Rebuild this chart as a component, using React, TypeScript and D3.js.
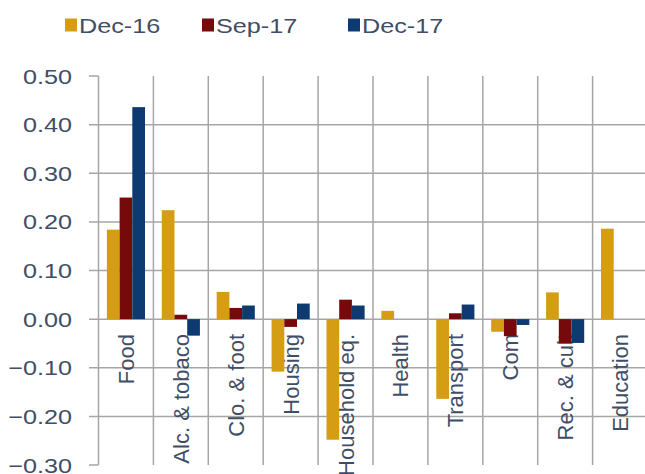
import React from "react";
import * as d3 from "d3";

const categories = ["Food", "Alc. & tobaco", "Clo. & foot", "Housing", "Household eq.", "Health", "Transport", "Com", "Rec. & cult", "Education"];
const seriesNames = ["Dec-16", "Sep-17", "Dec-17"];
const dec16 = [0.184, 0.224, 0.056, -0.108, -0.248, 0.017, -0.164, -0.026, 0.055, 0.186];
const sep17 = [0.25, 0.009, 0.023, -0.016, 0.04, 0, 0.012, -0.035, -0.05, 0];
const dec17 = [0.436, -0.034, 0.028, 0.032, 0.028, 0, 0.03, -0.012, -0.049, 0];
const yTicks = [0.5, 0.4, 0.3, 0.2, 0.1, 0, -0.1, -0.2, -0.3];
const colors = ["#d49d14", "#760a0a", "#0e3a72"];

const seriesValues = [dec16, sep17, dec17];

export default function App() {
  const W = 645, H = 474;
  const left = 98.5, right = 647.5, top = 76, bottom = 465;
  const x = d3.scaleBand<string>().domain(categories).range([left, right]).paddingInner(0).paddingOuter(0);
  const xs = d3.scaleBand<string>().domain(seriesNames).range([0, x.bandwidth()]).paddingInner(0).paddingOuter(0.66);
  const y = d3.scaleLinear().domain([-0.3, 0.5]).range([bottom, top]);
  const textColor = "#3f4e66";
  const gridColor = "#a6a6a6";
  const fmt = d3.format(".2f");
  const legendX = [65, 202, 348];

  return (
    <svg width={W} height={H} style={{ position: "absolute", left: 0, top: 0, background: "#fff" }} fontFamily="'Liberation Sans', Arial, sans-serif">
      {/* legend */}
      {seriesNames.map((s, i) => (
        <g key={s}>
          <rect x={legendX[i]} y={18.5} width={12} height={13} fill={colors[i]} />
          <text transform={`translate(${legendX[i] + 14},33) scale(1.2,1)`} fontSize={21} fill={textColor}>{s}</text>
        </g>
      ))}
      {/* horizontal gridlines and ticks */}
      {yTicks.map((t) => {
        const inner = t < 0.5 && t > -0.3;
        return (
          <g key={t}>
            <line x1={89} x2={inner ? W : left} y1={y(t)} y2={y(t)} stroke={gridColor} strokeWidth={1.5} />
            <text transform={`translate(72,${y(t) + 7.5}) scale(1.2,1)`} fontSize={21} fill={textColor} textAnchor="end">{fmt(t)}</text>
          </g>
        );
      })}
      {/* vertical gridlines */}
      {categories.map((c) => (
        <line key={c} x1={(x(c) as number) + x.bandwidth()} x2={(x(c) as number) + x.bandwidth()} y1={top} y2={bottom} stroke={gridColor} strokeWidth={1.5} />
      ))}
      <line x1={left} x2={left} y1={top} y2={bottom} stroke={gridColor} strokeWidth={1.5} />
      {/* category labels */}
      {categories.map((c) => {
        const cx = (x(c) as number) + x.bandwidth() / 2 + 8;
        return (
          <text key={c} transform={`translate(${cx},334) rotate(-90)`} fontSize={22} fill={textColor} textAnchor="end">{c}</text>
        );
      })}
      {/* bars */}
      {seriesValues.map((vals, si) => (
        <g key={si} fill={colors[si]}>
          {vals.map((v, ci) => {
            if (v === 0) return null;
            const bx = (x(categories[ci]) as number) + (xs(seriesNames[si]) as number);
            return <rect key={ci} x={bx} width={xs.bandwidth()} y={Math.min(y(v), y(0))} height={Math.abs(y(v) - y(0))} />;
          })}
        </g>
      ))}
    </svg>
  );
}
